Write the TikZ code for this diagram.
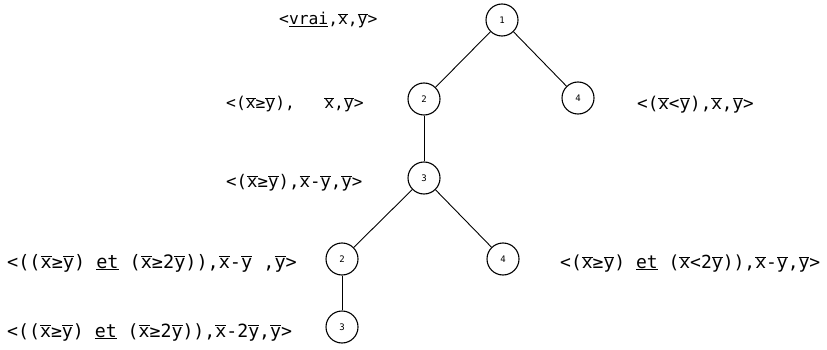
\documentclass[tikz,border=0pt]{standalone}
\usepackage{fontspec}
\setmonofont{DejaVu Sans Mono}
\newcommand\ob[1]{\ensuremath{\overline{\mbox{#1}}}}
\newcommand\fs[1]{\fontsize{#1}{18}\selectfont}
\begin{document}
\begin{tikzpicture}[x=1pt,y=-1pt,
  st/.style={circle,draw,line width=1.1pt,minimum size=32pt,inner sep=0pt,font=\fontsize{9}{9}\selectfont\ttfamily},
  lab/.style={anchor=base west,inner sep=0pt,font=\fontsize{16.3}{18}\selectfont\ttfamily},
  edge/.style={line width=0.9pt}]
\useasboundingbox (0,0) rectangle (827,350);
\node[st] (n1) at (502,20) {1};
\node[st] (n2) at (424,99) {2};
\node[st] (n4) at (578,98) {4};
\node[st] (n3) at (424,178) {3};
\node[st] (m2) at (342,259) {2};
\node[st] (m4) at (503,259) {4};
\node[st] (m3) at (342,327) {3};
\draw[edge] (n1) -- (n2);
\draw[edge] (n1) -- (n4);
\draw[edge] (n2) -- (n3);
\draw[edge] (n3) -- (m2);
\draw[edge] (n3) -- (m4);
\draw[line width=0.6pt] (m2) -- (m3);
\node[lab] (l1) at (279,25) {<\underline{vrai},\ob{x},\ob{y}>};
\node[lab] (l2) at (226,109) {<(\ob{x}≥\ob{y}),~~~\ob{x},\ob{y}>};
\node[lab] (l3) at (637,109.5) {\fs{17.6}<(\ob{x}<\ob{y}),\ob{x},\ob{y}>};
\node[lab] (l4) at (226,187.5) {\fs{17.4}<(\ob{x}≥\ob{y}),\ob{x}-\ob{y},\ob{y}>};
\node[lab] (l5) at (7,268) {\fs{18.5}<((\ob{x}≥\ob{y}) \underline{et} (\ob{x}≥2\ob{y})),\ob{x}-\ob{y} ,\ob{y}>};
\node[lab] (l6) at (560,268) {\fs{18}<(\ob{x}≥\ob{y}) \underline{et} (\ob{x}<2\ob{y})),\ob{x}-\ob{y},\ob{y}>};
\node[lab] (l7) at (7,337) {\fs{18.2}<((\ob{x}≥\ob{y}) \underline{et} (\ob{x}≥2\ob{y})),\ob{x}-2\ob{y},\ob{y}>};
\end{tikzpicture}
\end{document}
